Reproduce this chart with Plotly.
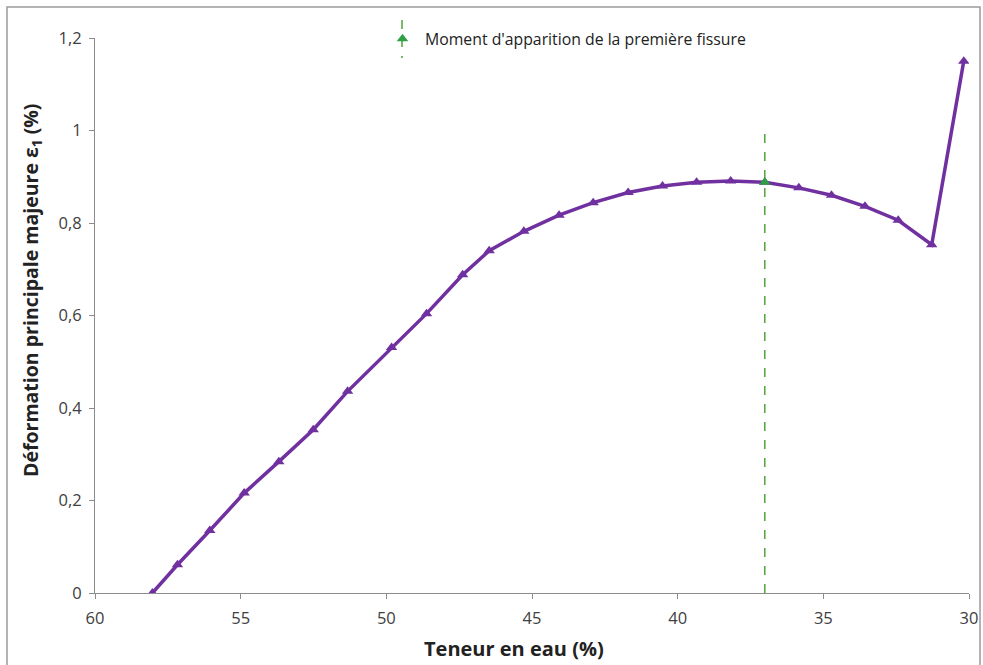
import plotly.graph_objects as go

# Data
water_content = [58.03, 57.17, 56.06, 54.88, 53.69, 52.51, 51.33, 49.82, 48.62, 47.38,
                 46.47, 45.28, 44.07, 42.90, 41.70, 40.52, 39.35, 38.18, 37.01, 35.84,
                 34.72, 33.57, 32.43, 31.28, 30.18]
strain = [0.0, 0.061, 0.135, 0.216, 0.284, 0.353, 0.436, 0.531, 0.604, 0.688,
          0.740, 0.782, 0.817, 0.844, 0.866, 0.880, 0.888, 0.891, 0.888, 0.876,
          0.860, 0.836, 0.806, 0.753, 1.150]

crack_water = [37.01]
crack_strain = [0.888]
crack_line_top = [1.0]

x_ticks = [60, 55, 50, 45, 40, 35, 30]
y_ticks = [0, 0.2, 0.4, 0.6, 0.8, 1.0, 1.2]

PURPLE = "#7030A0"
GREEN_LINE = "#5BA745"
GREEN_MARK = "#2EA043"
TXT = "#404040"
FONT = "Open Sans"

W, H = 983, 665
L, R, T, B = 95, 14, 38, 72
pw, ph = W - L - R, H - T - B


def px_x(p):
    return (p - L) / pw


def px_y(p):
    return (H - B - p) / ph


fig = go.Figure()

# Vertical dashed marker line at first crack
fig.add_trace(go.Scatter(
    x=[crack_water[0], crack_water[0]], y=[0, crack_line_top[0]],
    mode="lines", line=dict(color=GREEN_LINE, width=1.6, dash="dash"),
    showlegend=False, hoverinfo="skip"))

# Main series
fig.add_trace(go.Scatter(
    x=water_content, y=strain, mode="lines+markers",
    line=dict(color=PURPLE, width=3.5),
    marker=dict(symbol="triangle-up", size=10, color=PURPLE),
    showlegend=False))

# First crack marker
fig.add_trace(go.Scatter(
    x=crack_water, y=crack_strain, mode="markers",
    marker=dict(symbol="triangle-up", size=10, color=GREEN_MARK),
    name="Moment d'apparition de la première fissure", showlegend=True))

fig.update_layout(
    width=W, height=H,
    margin=dict(l=L, r=R, t=T, b=B, autoexpand=False),
    paper_bgcolor="white", plot_bgcolor="white",
    separators=", ",
    font=dict(family=FONT, size=16, color=TXT),
    showlegend=True,
    legend=dict(x=px_x(380), xanchor="left", y=px_y(39), yanchor="middle",
                itemwidth=35,
                bgcolor="rgba(0,0,0,0)", font=dict(size=15.8, color="#222222")),
    xaxis=dict(range=[60, 30], tickvals=x_ticks, ticktext=[str(v) for v in x_ticks],
               showgrid=False, zeroline=False, showline=True, linecolor="#8c8c8c",
               linewidth=1.2, ticks="outside", ticklen=5, tickcolor="#8c8c8c",
               ticklabelstandoff=5,
               tickfont=dict(size=16.5, color=TXT)),
    yaxis=dict(range=[0, 1.2], tickvals=y_ticks,
               showgrid=False, zeroline=False, showline=True, linecolor="#8c8c8c",
               linewidth=1.2, ticks="outside", ticklen=5, tickcolor="#8c8c8c",
               ticklabelstandoff=4,
               tickfont=dict(size=16.5, color=TXT)),
)

# Axis titles (placed as in the reference)
fig.add_annotation(text="<b>Teneur en eau (%)</b>", xref="paper", yref="paper",
                   x=px_x(514), y=px_y(648), xanchor="center", yanchor="middle",
                   showarrow=False, font=dict(size=20, color="#222222"))
fig.add_annotation(text="<b>Déformation principale majeure ε<sub>1</sub> (%)</b>",
                   xref="paper", yref="paper", textangle=-90,
                   x=px_x(31), y=px_y(291), xanchor="center", yanchor="middle",
                   showarrow=False, font=dict(size=19.5, color="#222222"))

# Legend symbol dashed line and chart border
fig.add_shape(type="line", xref="paper", yref="paper",
              x0=px_x(402), x1=px_x(402), y0=px_y(20), y1=px_y(58),
              line=dict(color=GREEN_LINE, width=1.6, dash="dash"), layer="below")
fig.add_shape(type="rect", xref="paper", yref="paper",
              x0=px_x(7), x1=px_x(980), y0=px_y(720), y1=px_y(7),
              line=dict(color="#9a9a9a", width=1.5), layer="below")

fig.write_html("out.html", config={"displayModeBar": False},
               post_script="document.body.style.margin='0';document.body.style.overflow='hidden';")
